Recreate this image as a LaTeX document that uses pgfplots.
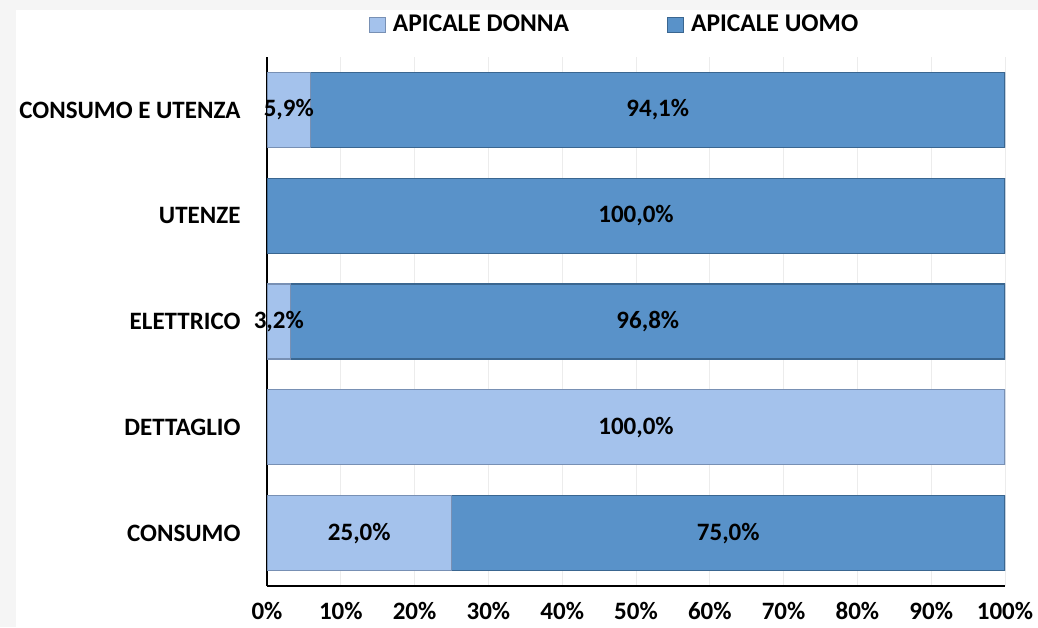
\documentclass[border=0pt]{standalone}
\usepackage{pgfplots}
\pgfplotsset{compat=1.18}
\usepackage{fontspec}
\setmainfont{Carlito}
\definecolor{donna}{HTML}{A4C2EC}
\definecolor{uomo}{HTML}{5992C9}
\definecolor{donnaD}{HTML}{7890B4}
\definecolor{uomoD}{HTML}{3A6690}
\definecolor{bg}{HTML}{F5F5F5}
\definecolor{gridc}{HTML}{ECECEC}
\begin{document}
\fontsize{25pt}{30pt}\selectfont\bfseries
\begin{tikzpicture}[x=1pt,y=1pt]
\fill[bg] (0,0) rectangle (1038,627);
\useasboundingbox (0,0) rectangle (1038,627);
\fill[white] (16,0) rectangle (1038,617);
\begin{axis}[
  at={(267pt,41pt)}, anchor=south west,
  scale only axis, width=738pt, height=529pt,
  xbar stacked, bar width=75pt,
  xmin=0, xmax=100, ymin=-0.5, ymax=4.5,
  ytick={0,...,4},
  yticklabels={CONSUMO, DETTAGLIO, ELETTRICO, UTENZE, CONSUMO E UTENZA},
  xtick={0,10,...,100},
  xticklabel={\pgfmathprintnumber{\tick}\%},
  /pgf/number format/assume math mode=true,
  axis x line*=bottom, axis y line*=left,
  axis line style={black, line width=1.2pt},
  major tick length=0pt,
  xmajorgrids, grid style={gridc, line width=0.8pt},
  tick label style={font=\fontsize{25pt}{30pt}\selectfont\bfseries},
  xticklabel style={yshift=-8pt},
  yticklabel style={xshift=-18pt},
  legend columns=2,
  legend style={draw=none, fill=none, at={(rel axis cs:0.471,1)}, anchor=center, yshift=32pt,
    font=\fontsize{25.5pt}{28pt}\selectfont\bfseries,
    /tikz/every even column/.append style={column sep=96pt}},
  legend image code/.code={\draw[#1, line width=0.8pt] (0pt,-7.5pt) rectangle (16pt,7.5pt); \path (21pt,0pt);},
]
\addplot[fill=donna, draw=donnaD, line width=1.2pt] coordinates {(25,0) (100,1) (3.2,2) (0,3) (5.9,4)};
\addplot[fill=uomo, draw=uomoD, line width=1.2pt] coordinates {(75,0) (0,1) (96.8,2) (100,3) (94.1,4)};
\legend{APICALE DONNA, APICALE UOMO}
\end{axis}
\begin{axis}[
  at={(267pt,41pt)}, anchor=south west,
  scale only axis, width=738pt, height=529pt,
  xmin=0, xmax=100, ymin=-0.5, ymax=4.5,
  hide axis,
]
\addplot[draw=none, mark=none, nodes near coords, point meta=explicit symbolic,
  every node near coord/.append style={anchor=center, font=\fontsize{25pt}{30pt}\selectfont\bfseries, text=black}]
  table[meta=l] {
x y l
12.5 0 25,0\%
62.5 0 75,0\%
50 1 100,0\%
1.6 2 3,2\%
51.6 2 96,8\%
50 3 100,0\%
2.95 4 5,9\%
52.95 4 94,1\%
};
\end{axis}
\end{tikzpicture}
\end{document}
